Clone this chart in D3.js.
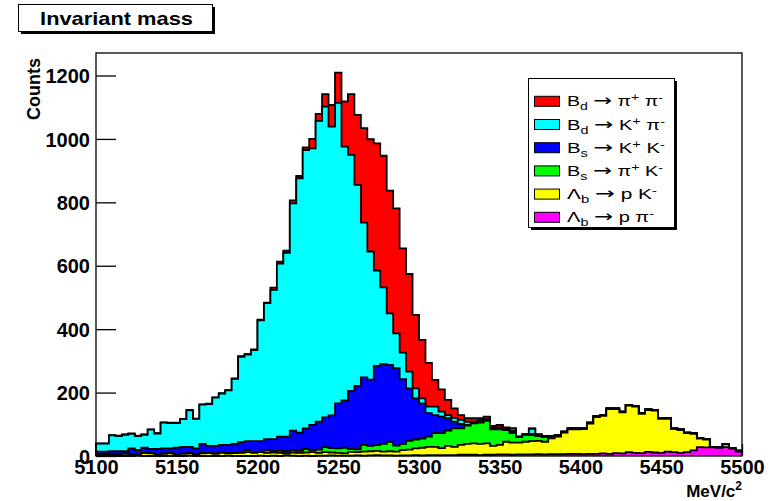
<!DOCTYPE html>
<html><head><meta charset="utf-8">
<script src="https://cdn.jsdelivr.net/npm/d3@7/dist/d3.min.js"></script>
<style>body{margin:0;background:#fff;}svg{display:block;}</style>
</head><body>
<svg id="chart" width="780" height="501"></svg>
<script>
// ---- data (invariant-mass histogram, 100 bins of 4 MeV from 5100 to 5500) ----
const binLow = d3.range(5100, 5500, 4);
const binWidth = 4;
const xTickValues = [5100,5150,5200,5250,5300,5350,5400,5450,5500];
const yTickValues = [0,200,400,600,800,1000,1200];
const seriesKeys = ["LbPpi","LbPK","BsPiK","BsKK","BdKpi","BdPiPi"]; // bottom -> top

const LbPpi = [0,0,0,0,0,0,1,0,0,0, 0,0,0,0,1,0,0,0,0,0, 1,0,0,0,0,1,0,1,0,3,
  1,0,1,0,1,1,2,1,1,1, 2,1,2,3,2,2,1,2,2,3, 2,3,3,3,3,3,4,4,4,3,
  4,4,5,5,4,5,5,5,6,5, 6,6,6,7,7,6,7,7,8,7, 9,8,12,10,9,13,11,10,14,12,
  10,12,18,28,27,27,26,28,23,14];
const LbPK = [4,6,3,5,7,4,5,9,8,5, 7,8,6,7,7,3,8,9,7,10, 7,9,10,12,10,11,10,10,10,6,
  10,10,10,12,9,11,9,9,7,12, 10,13,13,13,12,13,13,17,18,21, 24,26,26,22,29,26,31,34,36,35,
  36,28,30,40,38,37,40,42,42,40, 50,55,68,77,77,79,95,116,119,141, 139,130,147,146,124,132,132,107,103,73,
  72,60,52,27,25,1,1,9,1,2];
const BsPiK = [2,2,2,1,1,2,1,1,2,2, 1,1,1,1,1,2,1,1,1,1, 1,1,2,7,2,2,8,4,6,6,
  7,6,11,7,10,16,14,14,18,9, 9,21,17,18,24,30,19,19,28,28, 29,32,43,47,48,58,52,58,63,67,
  71,52,49,37,30,18,22,19,15,15, 6,4,3,3,3,2,3,3,2,2, 2,2,2,2,2,2,2,2,2,2,
  2,2,2,1,1,1,1,1,1,1];
const BsKK = [8,6,10,9,7,18,12,16,12,15, 16,15,19,21,20,19,29,22,24,24, 26,28,32,28,35,33,35,38,45,46,
  62,58,65,79,88,94,103,142,149,183, 200,213,209,250,252,242,244,204,165,130, 111,74,57,52,39,21,14,2,1,1,
  1,2,2,1,8,1,1,4,4,3, 1,1,0,0,0,0,0,0,0,0, 0,0,0,0,0,0,0,0,0,0,
  0,0,0,0,0,0,0,0,0,0];
const BdKpi = [25,25,50,48,52,46,44,41,61,49, 81,80,78,87,115,93,124,132,152,162, 172,205,269,273,287,381,429,471,546,580,
  717,802,878,872,949,980,911,948,801,745, 634,488,404,301,242,163,110,84,53,31, 16,21,27,16,10,12,13,10,4,6,
  4,4,4,2,7,0,0,16,1,0, 0,0,0,0,0,0,0,0,0,0, 0,0,0,0,0,0,0,0,0,0,
  0,0,0,0,0,0,0,0,0,0];
const BdPiPi = [1,1,1,1,1,1,1,1,1,1, 1,1,1,1,1,1,1,1,1,1, 1,2,2,2,2,2,2,7,6,7,
  9,7,8,30,22,39,68,95,142,191, 221,298,354,401,415,387,394,329,308,232, 184,138,84,70,48,30,15,11,11,7,
  8,5,8,5,0,0,0,1,0,0, 0,0,0,0,0,0,0,0,0,0, 0,0,0,0,0,0,0,0,0,0,
  0,0,0,0,0,0,0,0,0,0];

const seriesColors = {LbPpi:"#ff00ff", LbPK:"#ffff00", BsPiK:"#00ff00", BsKK:"#0000ff", BdKpi:"#00ffff", BdPiPi:"#ff0000"};
// legend labels: [text, kind]
const legendLabels = {
  BdPiPi: [["B",""],["d","sub"],[" ",""],["\u2192","arrow"],[" \u03c0",""],["+","sup"],[" \u03c0",""],["-","sup"]],
  BdKpi:  [["B",""],["d","sub"],[" ",""],["\u2192","arrow"],[" K",""],["+","sup"],[" \u03c0",""],["-","sup"]],
  BsKK:   [["B",""],["s","sub"],[" ",""],["\u2192","arrow"],[" K",""],["+","sup"],[" K",""],["-","sup"]],
  BsPiK:  [["B",""],["s","sub"],[" ",""],["\u2192","arrow"],[" \u03c0",""],["+","sup"],[" K",""],["-","sup"]],
  LbPK:   [["\u039b",""],["b","sub"],[" ",""],["\u2192","arrow"],[" p K",""],["-","sup"]],
  LbPpi:  [["\u039b",""],["b","sub"],[" ",""],["\u2192","arrow"],[" p \u03c0",""],["-","sup"]]
};
const legendOrder = ["BdPiPi","BdKpi","BsKK","BsPiK","LbPK","LbPpi"];
const legendTextWidths = [96,98,98,96,90,87];

// ---- layout ----
const svg = d3.select("#chart");
const F = {left:96, right:742, top:53, bottom:456};
const x = d3.scaleLinear().domain([5100,5500]).range([F.left,F.right]);
const y = d3.scaleLinear().domain([0,1271]).range([F.bottom,F.top]);
const font = "'Liberation Sans', Arial, Helvetica, sans-serif";

function fitWidth(t, tx, ty, target){
  const w = t.node().getBBox().width;
  t.attr("transform", `translate(${tx},${ty}) scale(${target/w},1)`);
}

// axes (drawn first, histograms cover them)
const gy = svg.append("g").attr("transform",`translate(${F.left},0)`);
gy.call(d3.axisLeft(y).tickValues(d3.range(0,1300,50)).tickSize(-10).tickFormat(""));
gy.call(d3.axisLeft(y).tickValues(yTickValues).tickSize(-20).tickPadding(6).tickFormat(d3.format("d")));
gy.selectAll(".domain").remove();
gy.selectAll("line").attr("stroke","#000").attr("stroke-width",1.3);
gy.selectAll("text").attr("font-family",font).attr("font-weight","bold").attr("font-size",20).attr("fill","#000").attr("dy","0.36em");

const gx = svg.append("g").attr("transform",`translate(0,${F.bottom})`);
gx.call(d3.axisBottom(x).tickValues(d3.range(5100,5501,10)).tickSize(-6).tickFormat(""));
gx.call(d3.axisBottom(x).tickValues(xTickValues).tickSize(-12).tickPadding(4).tickFormat(d3.format("d")));
gx.selectAll(".domain").remove();
gx.selectAll("line").attr("stroke","#000").attr("stroke-width",1.3);
gx.selectAll("text").attr("font-family",font).attr("font-weight","bold").attr("font-size",20).attr("fill","#000");

// ---- stacked histograms ----
const rows = binLow.map((b,i)=>({bin:b, LbPpi:LbPpi[i], LbPK:LbPK[i], BsPiK:BsPiK[i], BsKK:BsKK[i], BdKpi:BdKpi[i], BdPiPi:BdPiPi[i]}));
const stacked = d3.stack().keys(seriesKeys)(rows);
const line = d3.line().x(d=>x(d[0])).y(d=>y(d[1]));
const hist = svg.append("g");
stacked.slice().reverse().forEach(s=>{
  const pts = [[binLow[0],0]];
  s.forEach((d,i)=>{ pts.push([binLow[i], d[1]]); pts.push([binLow[i]+binWidth, d[1]]); });
  pts.push([binLow[binLow.length-1]+binWidth, 0]);
  hist.append("path").attr("d", line(pts)+"Z").attr("fill", seriesColors[s.key]).attr("stroke","none");
  hist.append("path").attr("d", line(pts)).attr("fill","none").attr("stroke","#000").attr("stroke-width",1.8).attr("stroke-linejoin","miter");
});

// frame
svg.append("rect").attr("x",F.left).attr("y",F.top).attr("width",F.right-F.left).attr("height",F.bottom-F.top)
  .attr("fill","none").attr("stroke","#000").attr("stroke-width",1.3);

// axis titles
svg.append("text").attr("x",742).attr("y",497).attr("text-anchor","end")
  .attr("font-family",font).attr("font-weight","bold").attr("font-size",17)
  .call(t=>{ t.append("tspan").text("MeV/c"); t.append("tspan").attr("dy",-7).attr("font-size",12).text("2"); });
svg.append("text").attr("transform","translate(40,120) rotate(-90)")
  .attr("font-family",font).attr("font-weight","bold").attr("font-size",18).text("Counts");

// title box
svg.append("rect").attr("x",21).attr("y",7).attr("width",194).attr("height",27).attr("fill","#000");
svg.append("rect").attr("x",18.5).attr("y",4.5).attr("width",194).attr("height",27).attr("fill","#fff").attr("stroke","#000").attr("stroke-width",1);
const title = svg.append("text").attr("text-anchor","middle")
  .attr("font-family",font).attr("font-weight","bold").attr("font-size",18).text("Invariant mass");
fitWidth(title, 116.5, 25, 153);

// legend
svg.append("rect").attr("x",531).attr("y",81).attr("width",146).attr("height",149).attr("fill","#000");
svg.append("rect").attr("x",528.5).attr("y",78.5).attr("width",146).attr("height",149).attr("fill","#fff").attr("stroke","#000").attr("stroke-width",1);
legendOrder.forEach((k,i)=>{
  const cy = 101.3 + i*23.2;
  svg.append("rect").attr("x",534.5).attr("y",cy-5).attr("width",25).attr("height",10)
    .attr("fill",seriesColors[k]).attr("stroke","#000").attr("stroke-width",1);
  const t = svg.append("text")
    .attr("font-family",font).attr("font-size",14).attr("fill","#000");
  let shift = 0;
  legendLabels[k].forEach(([s,kind])=>{
    const target = kind==="sub"?4:(kind==="sup"?-5:0);
    const ts = t.append("tspan").attr("dy", target-shift)
      .attr("font-size", (kind==="sub"||kind==="sup")?10:(kind==="arrow"?16:14)).text(s);
    if (kind==="arrow") ts.attr("font-family","'DejaVu Sans', sans-serif");
    shift = target;
  });
  fitWidth(t, 567, cy+5, legendTextWidths[i]);
});
</script>
</body></html>
